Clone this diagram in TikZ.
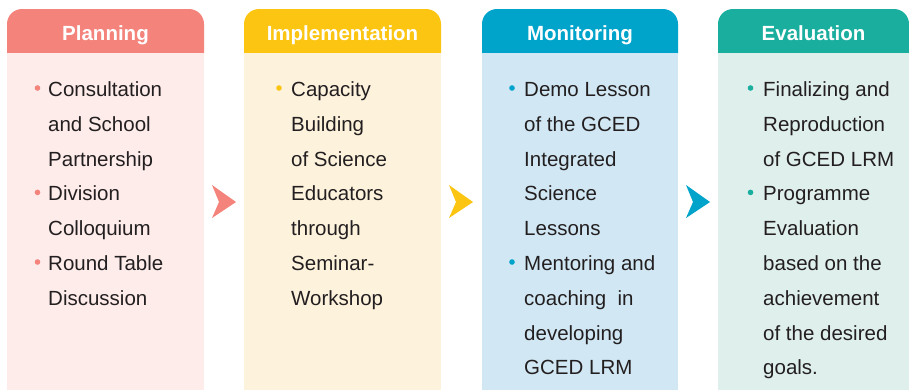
\documentclass[tikz,border=0pt]{standalone}
\usepackage{fontspec}
\setmainfont{Liberation Sans}
\definecolor{hA}{HTML}{F3837B}
\definecolor{bA}{HTML}{FDECEA}
\definecolor{hB}{HTML}{FBC512}
\definecolor{bB}{HTML}{FDF3DD}
\definecolor{hC}{HTML}{00A4CB}
\definecolor{bC}{HTML}{D1E8F4}
\definecolor{hD}{HTML}{19AE9D}
\definecolor{bD}{HTML}{DFEFEC}
\definecolor{ink}{HTML}{231F20}
\newcommand\mylines[4]{%
  \foreach \t [count=\i from #3] in {#4} {%
    \node[txt] (#1-\i) at (#2,{96.5+(\i-1)*34.8}) {\t};
  }%
}
\newcommand\mydot[3]{\fill[#1] (#2,{96.5+(#3-1)*34.8-8.5}) circle (2.8);}
\begin{document}
\begin{tikzpicture}[x=1pt,y=-1pt,
  txt/.style={anchor=base west,inner sep=0pt,text=ink,font=\fontsize{20.5}{24}\selectfont},
  hdrtxt/.style={anchor=base,text=white,inner sep=0pt,font=\fontsize{20.5}{24}\selectfont\bfseries},
  bodybox/.style={anchor=north west,inner sep=0pt,minimum width=#1,minimum height=337pt,draw=none}]
\useasboundingbox (0,0) rectangle (909,389);
% columns
\foreach \x/\w/\h/\b/\n in {7/197/hA/bA/1,244/197/hB/bB/2,482/196/hC/bC/3,718/191/hD/bD/4}{
  \fill[\h] (\x,53) [rounded corners=15] -- (\x,9) -- ({\x+\w},9) [sharp corners] -- ({\x+\w},53) -- cycle;
  \node[bodybox=\w, fill=\b] (body\n) at (\x,53) {};
}
\node[hdrtxt] (t1) at (105.5,40.5) {Planning};
\node[hdrtxt] (t2) at (342.5,40.5) {Implementation};
\node[hdrtxt] (t3) at (580,40.5) {Monitoring};
\node[hdrtxt] (t4) at (813.5,40.5) {Evaluation};
% arrows
\fill[hA] (212,185) -- (236,202) -- (212,218) -- (219,202) -- cycle;
\fill[hB] (449,185) -- (473,202) -- (449,218) -- (456,202) -- cycle;
\fill[hC] (686,185) -- (710,202) -- (686,218) -- (693,202) -- cycle;
% column 1
\mydot{hA}{37.5}{1}\mydot{hA}{37.5}{4}\mydot{hA}{37.5}{6}
\mylines{a}{48}{1}{Consultation,and School,Partnership,Division,Colloquium,Round Table,Discussion}
% column 2
\mydot{hB}{279}{1}
\mylines{b}{291}{1}{Capacity,Building,of Science,Educators,through,Seminar-,Workshop}
% column 3
\mydot{hC}{512}{1}\mydot{hC}{512}{6}
\mylines{c}{524}{1}{Demo Lesson,of the GCED,Integrated,Science,Lessons,Mentoring and,coaching\ \ in,developing,GCED LRM}
% column 4
\mydot{hD}{750.5}{1}\mydot{hD}{750.5}{4}
\mylines{d}{763}{1}{Finalizing and,Reproduction,of GCED LRM,Programme,Evaluation,based on the,achievement,of the desired,goals.}
\end{tikzpicture}
\end{document}
